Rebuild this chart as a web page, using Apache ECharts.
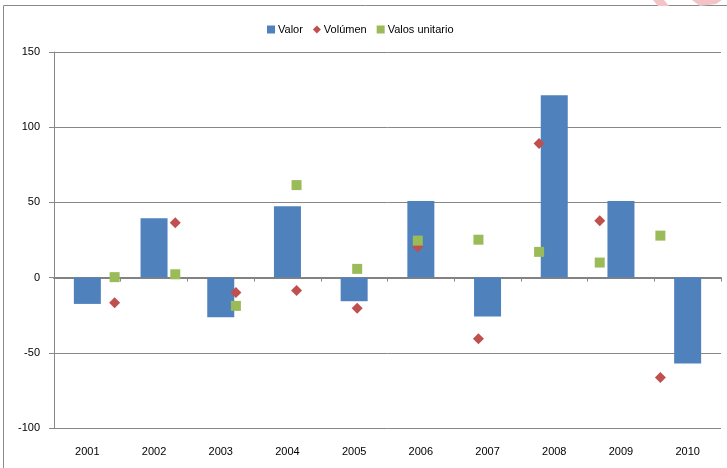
<!DOCTYPE html>
<html>
<head>
<meta charset="utf-8">
<script src="https://cdn.jsdelivr.net/npm/echarts@6/dist/echarts.min.js"></script>
<style>
  html, body { margin: 0; padding: 0; background: #fff; }
  #chart { width: 727px; height: 468px; }
</style>
</head>
<body>
<div id="chart"></div>
<script>
// datos
const years = ["2001", "2002", "2003", "2004", "2005", "2006", "2007", "2008", "2009", "2010"];
const valor = [-17.5, 39.5, -26.3, 47.4, -15.7, 50.9, -25.9, 121.3, 50.9, -57.1];
const volumen = [-16.8, 36.5, -9.9, -8.6, -20.3, 20.5, -40.7, 89.2, 37.8, -66.4];
const valosUnitario = [0.3, 2.2, -18.8, 61.5, 5.8, 24.6, 25.2, 17.1, 10, 27.9];
const yTicks = [-100, -50, 0, 50, 100, 150];

const font = "'Liberation Sans', Arial, sans-serif";
const gridColor = "#878787";

// los marcadores van sobre un eje de 11 tramos (como en la hoja original)
const toPoints = (arr) => arr.map((v, i) => [i + 1, v]);

const chart = echarts.init(document.getElementById("chart"));
chart.setOption({
    animation: false,
    textStyle: { fontFamily: font },
    graphic: [
        {
            type: "rect",
            shape: { x: 3.5, y: 5.5, width: 800, height: 800 },
            style: { fill: "none", stroke: "#8a8a8a", lineWidth: 1 },
            silent: true,
        },
        // restos de la marca de agua arriba a la derecha
        {
            type: "polygon",
            shape: { points: [[653, 0], [664, 0], [669, 6], [658, 6]] },
            style: { fill: "#f2c4c6" },
            silent: true,
        },
        {
            type: "polygon",
            shape: { points: [[692, 0], [722, 0], [716, 4], [700, 6]] },
            style: { fill: "#f2c4c6" },
            silent: true,
        },
    ],
    legend: {
        top: 19,
        left: 262,
        itemWidth: 8,
        itemHeight: 8,
        itemGap: 10,
        textStyle: { fontSize: 11, color: "#000", fontFamily: font, padding: [0, 0, 0, -2] },
        data: [
            { name: "Valor", icon: "rect" },
            { name: "Volúmen", icon: "diamond" },
            { name: "Valos unitario", icon: "rect" },
        ],
    },
    grid: { left: 54, right: 6, top: 52, bottom: 40 },
    xAxis: [
        {
            // etiquetas abajo
            type: "category",
            data: years,
            position: "bottom",
            axisLine: { show: false, onZero: false },
            axisTick: { show: false },
            axisLabel: { fontSize: 11, color: "#000", margin: 18 },
        },
        {
            type: "value",
            min: 0,
            max: 11,
            show: false,
            axisLine: { onZero: false },
        },
        {
            // linea del cero con marcas
            type: "category",
            data: years,
            position: "bottom",
            axisLine: { show: true, onZero: true, onZeroAxisIndex: 0, lineStyle: { color: "#828282", width: 2 } },
            axisTick: { show: true, length: 4, lineStyle: { color: gridColor } },
            axisLabel: { show: false },
        },
    ],
    yAxis: {
        type: "value",
        min: yTicks[0],
        max: yTicks[yTicks.length - 1],
        interval: 50,
        axisLine: { show: true, onZero: false, lineStyle: { color: gridColor } },
        axisTick: { show: true, length: 5, lineStyle: { color: gridColor } },
        axisLabel: { fontSize: 11, color: "#000", margin: 14 },
        splitLine: { lineStyle: { color: gridColor, width: 1 } },
    },
    series: [
        {
            name: "Valor",
            type: "bar",
            xAxisIndex: 0,
            data: valor,
            barWidth: 27,
            itemStyle: { color: "#4F81BD" },
        },
        {
            name: "Volúmen",
            type: "scatter",
            xAxisIndex: 1,
            symbol: "diamond",
            symbolSize: 11,
            data: toPoints(volumen),
            itemStyle: { color: "#C0504D", opacity: 1 },
        },
        {
            name: "Valos unitario",
            type: "scatter",
            xAxisIndex: 1,
            symbol: "rect",
            symbolSize: 10,
            data: toPoints(valosUnitario),
            itemStyle: { color: "#9BBB59", opacity: 1 },
        },
    ],
});
</script>
</body>
</html>
